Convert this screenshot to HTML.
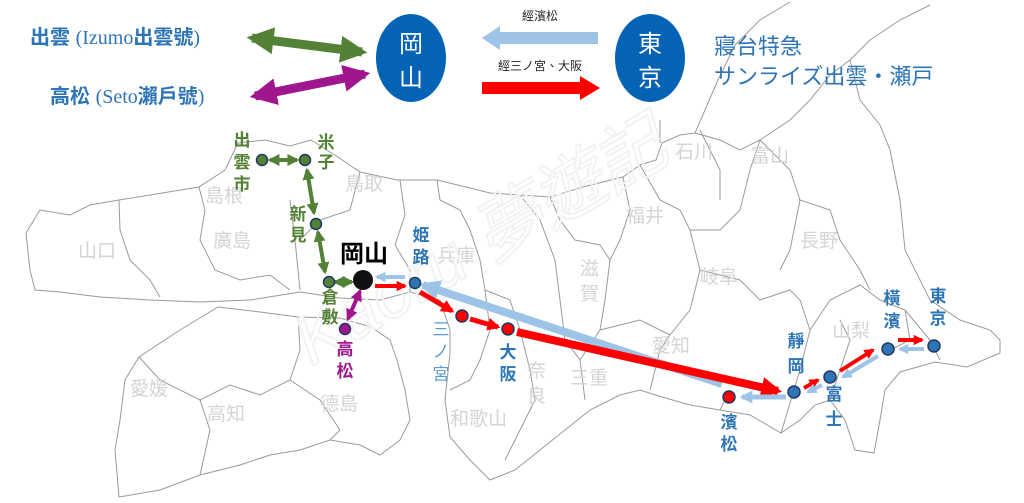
<!DOCTYPE html>
<html><head><meta charset="utf-8"><style>
body{margin:0;width:1024px;height:503px;background:#fff;overflow:hidden;font-family:"Liberation Sans","Noto Sans CJK TC",sans-serif}
svg{position:absolute;left:0;top:0}
</style></head><body>
<svg width="1024" height="503" viewBox="0 0 1024 503" font-family="Liberation Sans, Noto Sans CJK TC, sans-serif">
<defs>
<marker id="gr" viewBox="0 0 10 10" refX="8" refY="5" markerWidth="3" markerHeight="3" orient="auto-start-reverse"><path d="M0,0L10,5L0,10z" fill="#538135"/></marker>
<marker id="pu" viewBox="0 0 10 10" refX="8" refY="5" markerWidth="3" markerHeight="3" orient="auto-start-reverse"><path d="M0,0L10,5L0,10z" fill="#a0168e"/></marker>
<marker id="rd" viewBox="0 0 10 10" refX="8" refY="5" markerWidth="2.6" markerHeight="2.6" orient="auto"><path d="M0,0L10,5L0,10z" fill="#f00"/></marker>
<marker id="lb" viewBox="0 0 10 10" refX="8" refY="5" markerWidth="2.6" markerHeight="2.6" orient="auto"><path d="M0,0L10,5L0,10z" fill="#9dc3e6"/></marker>
</defs>
<!-- map outlines -->
<g fill="none" stroke="#9a9a9a" stroke-width="1">
<path d="M26,233 L40,210 L70,215 L90,205 L119,200 L150,195 L199,187 L225,170 L238,143 L265,140 L290,146 L311,140 L338,157 L360,172 L397,180 L437,180 L470,188 L490,193 L520,195 L550,197 L583,187 L623,177 L640,165 L656,160 L662,143 L680,135 L695,133 L705,110 L718,80 L735,45 L760,20 L790,2 M695,133 L720,140 L740,150 L760,140 L790,120 L810,100 L830,75 L850,60 L870,40 L900,20 L930,5 M26,233 L30,270 L35,290 L60,292 L100,297 L150,300 L200,302 L250,300 L300,292 L340,298 L380,300 L410,292 L440,300 L450,330 L450,353 L445,400 L450,437 L470,460 L490,480 L515,470 L540,450 L565,430 L590,410 L620,395 L640,390 L662,397 L690,405 L720,410 L750,415 L781,433 L800,420 L815,405 L830,400 L845,420 L855,450 L874,453 L880,420 L885,390 L900,372 L935,362 L967,367 L1000,353 L1000,340 L990,330 L960,320 L930,300 L905,250 L900,200 L890,150 L880,125 L860,100 L850,60"/>
<path d="M119,497 L115,450 L120,420 L125,380 L139,357 L180,330 L218,307 L260,312 L298,317 L340,318 L371,327 L390,340 L397,360 L405,390 L410,420 L400,440 L380,455 L360,445 L330,440 L300,450 L270,455 L240,465 L200,475 L160,490 L119,497"/>
<path d="M139,357 L160,380 L200,400 L230,385 L260,395 L290,380 L300,350 L298,317 M290,380 L320,400 L340,430 L330,440 M200,400 L210,430 L200,475"/>
<path d="M119,200 L120,230 L130,260 L150,280 L160,297 M199,187 L205,210 L200,240 L215,270 L240,280 L270,275 L290,290 M290,200 L295,240 L300,290 M360,172 L350,210 L320,220 L300,240 M400,180 L405,215 L395,245 L410,270 L410,292 M437,180 L440,200 L460,210 L470,230 L480,260 L485,290 L490,330 L480,360 L470,380 L450,390 M485,290 L510,300 L520,330 L530,370 L535,400 L520,430 L505,460 M520,195 L540,220 L555,260 L560,300 L565,340 L580,360 L585,400 M550,197 L560,220 L575,240 L600,245 L610,260 L605,300 L600,330 L580,360 M623,177 L630,210 L620,240 L610,260 M640,165 L660,200 L680,210 L690,230 L700,270 L690,310 L670,335 L660,350 L650,390 M600,330 L640,320 L670,335 M690,230 L720,230 L740,210 L750,170 L760,140 M700,270 L740,280 L760,300 L790,290 L800,300 L810,330 L800,370 L781,433 M760,140 L790,170 L800,200 L830,210 L840,240 L860,270 L870,290 M800,200 L790,250 L780,270 M810,330 L830,300 L860,285 L880,300 L905,310 L910,340 L890,350 M830,400 L840,370 L850,340 L840,320 M905,310 L930,340 L940,360 M730,390 L720,410 M660,120 L660,143 M700,130 L720,170 L720,200"/>
</g>
<!-- prefecture labels -->
<g fill="#d4d4d4" font-size="19">
<text x="205" y="202">島根</text><text x="345" y="190">鳥取</text><text x="78" y="257">山口</text><text x="213" y="247">廣島</text><text x="437" y="262">兵庫</text><text x="626" y="222">福井</text><text x="675" y="158">石川</text><text x="751" y="162">富山</text><text x="800" y="247">長野</text><text x="700" y="283">岐阜</text><text x="652" y="352">愛知</text><text x="832" y="337">山梨</text><text x="570" y="384">三重</text><text x="130" y="395">愛媛</text><text x="207" y="420">高知</text><text x="320" y="410">德島</text><text x="450" y="425">和歌山</text>
<text x="580" y="275">滋</text><text x="580" y="300">賀</text><text x="527" y="377">奈</text><text x="527" y="402">良</text>
</g>
<text x="240" y="300" font-size="70" fill="none" stroke="#f2f2f2" stroke-width="2" transform="rotate(-30 400 200)" font-style="italic">Kaoru 夢遊記</text>
<!-- header -->
<g font-weight="bold" fill="#2e75b6" font-size="20">
<text x="30" y="44">出雲 <tspan font-family="Liberation Serif,Noto Serif CJK SC,serif" font-weight="normal">(Izumo</tspan>出雲號<tspan font-family="Liberation Serif,serif" font-weight="normal">)</tspan></text>
<text x="50" y="103">高松 <tspan font-family="Liberation Serif,serif" font-weight="normal">(Seto</tspan>瀨戶號<tspan font-family="Liberation Serif,serif" font-weight="normal">)</tspan></text>
</g>
<line x1="252" y1="38" x2="362" y2="52" stroke="#538135" stroke-width="9" marker-start="url(#gr)" marker-end="url(#gr)"/>
<line x1="255" y1="96" x2="365" y2="74" stroke="#a0168e" stroke-width="9" marker-start="url(#pu)" marker-end="url(#pu)"/>
<ellipse cx="411" cy="58" rx="35" ry="44" fill="#0563b5"/>
<ellipse cx="650" cy="58" rx="35" ry="44" fill="#0563b5"/>
<g fill="#fff" font-size="24" text-anchor="middle"><text x="411" y="52">岡</text><text x="411" y="86">山</text><text x="650" y="52">東</text><text x="650" y="86">京</text></g>
<path d="M598,32 L500,32 L500,26 L482,38 L500,50 L500,44 L598,44z" fill="#9dc3e6"/>
<path d="M482,82 L580,82 L580,76 L600,88 L580,100 L580,94 L482,94z" fill="#f00"/>
<g font-size="12" fill="#222" text-anchor="middle"><text x="540" y="20">經濱松</text><text x="540" y="70">經三ノ宮、大阪</text></g>
<g fill="#2e75b6" font-size="22"><text x="714" y="54">寢台特急</text><text x="714" y="84">サンライズ出雲・瀬戸</text></g>
<!-- routes -->
<g fill="none">
<line x1="270" y1="160" x2="297" y2="160" stroke="#538135" stroke-width="4" marker-start="url(#gr)" marker-end="url(#gr)"/>
<line x1="307" y1="170" x2="314" y2="213" stroke="#538135" stroke-width="4" marker-start="url(#gr)" marker-end="url(#gr)"/>
<line x1="318" y1="232" x2="325" y2="272" stroke="#538135" stroke-width="4" marker-start="url(#gr)" marker-end="url(#gr)"/>
<line x1="335" y1="282" x2="352" y2="282" stroke="#538135" stroke-width="4" marker-start="url(#gr)" marker-end="url(#gr)"/>
<line x1="360" y1="291" x2="348" y2="319" stroke="#a0168e" stroke-width="4" marker-start="url(#pu)" marker-end="url(#pu)"/>
<line x1="405" y1="277" x2="377" y2="277" stroke="#9dc3e6" stroke-width="4" marker-end="url(#lb)"/>
<line x1="375" y1="286" x2="405" y2="286" stroke="#f00" stroke-width="4" marker-end="url(#rd)"/>
<line x1="722" y1="384" x2="423" y2="285" stroke="#9dc3e6" stroke-width="8" marker-end="url(#lb)"/>
<line x1="420" y1="292" x2="452" y2="311" stroke="#f00" stroke-width="5" marker-end="url(#rd)"/>
<line x1="470" y1="319" x2="498" y2="327" stroke="#f00" stroke-width="5" marker-end="url(#rd)"/>
<line x1="517" y1="332" x2="778" y2="391" stroke="#f00" stroke-width="8" marker-end="url(#rd)"/>
<line x1="786" y1="397" x2="742" y2="397" stroke="#9dc3e6" stroke-width="5" marker-end="url(#lb)"/>
<line x1="804" y1="388" x2="818" y2="380" stroke="#f00" stroke-width="4" marker-end="url(#rd)"/>
<line x1="822" y1="385" x2="808" y2="392" stroke="#9dc3e6" stroke-width="4" marker-end="url(#lb)"/>
<line x1="840" y1="371" x2="873" y2="350" stroke="#f00" stroke-width="4" marker-end="url(#rd)"/>
<line x1="878" y1="356" x2="843" y2="377" stroke="#9dc3e6" stroke-width="4" marker-end="url(#lb)"/>
<line x1="898" y1="340" x2="922" y2="340" stroke="#f00" stroke-width="4" marker-end="url(#rd)"/>
<line x1="924" y1="349" x2="900" y2="349" stroke="#9dc3e6" stroke-width="4" marker-end="url(#lb)"/>
</g>
<g stroke="#1f3864" stroke-width="1.5">
<circle cx="262" cy="160" r="5.5" fill="#538135"/><circle cx="305" cy="160" r="5.5" fill="#538135"/><circle cx="316" cy="224" r="5.5" fill="#538135"/><circle cx="329" cy="282" r="5.5" fill="#538135"/>
<circle cx="345" cy="329" r="5.5" fill="#a0168e"/>
<circle cx="415" cy="283" r="5.5" fill="#2e75b6"/><circle cx="462" cy="316" r="6" fill="#f00"/><circle cx="508" cy="329" r="6" fill="#f00"/>
<circle cx="729" cy="397" r="6" fill="#f00"/><circle cx="794" cy="392" r="6" fill="#2e75b6"/><circle cx="830" cy="377" r="6" fill="#2e75b6"/><circle cx="888" cy="349" r="6" fill="#2e75b6"/><circle cx="934" cy="346" r="6" fill="#2e75b6"/>
</g>
<circle cx="363" cy="280" r="10" fill="#111"/>
<text x="340" y="262" font-size="24" font-weight="bold" fill="#000">岡山</text>
<g font-size="17" font-weight="bold" text-anchor="middle">
<g fill="#538135"><text x="242" y="146">出</text><text x="242" y="168">雲</text><text x="242" y="190">市</text><text x="326" y="148">米</text><text x="326" y="168">子</text><text x="298" y="220">新</text><text x="298" y="241">見</text><text x="330" y="303">倉</text><text x="330" y="323">敷</text></g>
<g fill="#a0168e"><text x="345" y="355">高</text><text x="345" y="377">松</text></g>
<g fill="#2e75b6"><text x="421" y="241">姫</text><text x="421" y="263">路</text><text x="508" y="358">大</text><text x="508" y="380">阪</text><text x="729" y="428">濱</text><text x="729" y="450">松</text><text x="796" y="347">靜</text><text x="796" y="372">岡</text><text x="834" y="400">富</text><text x="834" y="425">士</text><text x="892" y="304">橫</text><text x="892" y="327">濱</text><text x="938" y="302">東</text><text x="938" y="324">京</text></g>
<g fill="#5b9bd5" font-weight="normal"><text x="441" y="335">三</text><text x="441" y="357">ノ</text><text x="441" y="380">宮</text></g>
</g>
</svg>
</body></html>
